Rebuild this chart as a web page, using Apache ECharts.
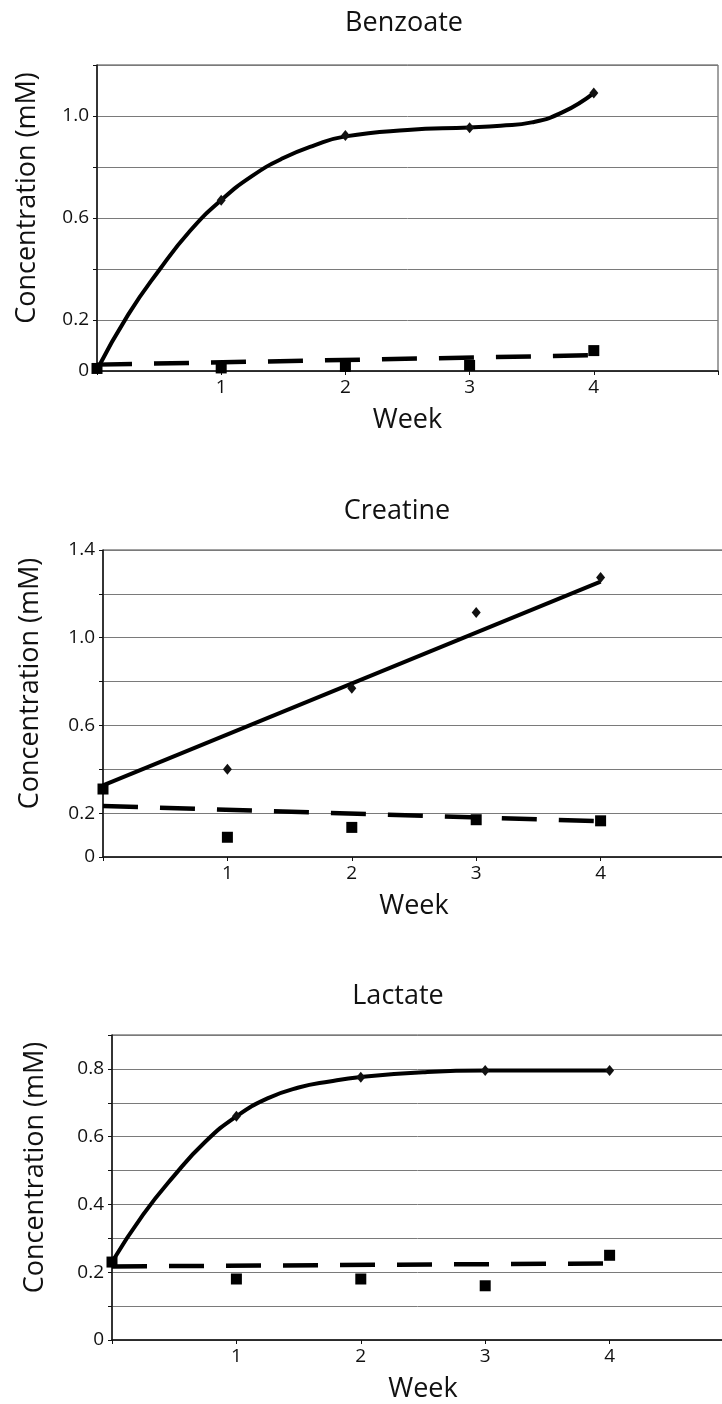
<!DOCTYPE html>
<html>
<head>
<meta charset="utf-8">
<script src="https://cdn.jsdelivr.net/npm/echarts@6/dist/echarts.min.js"></script>
<style>
html,body{margin:0;padding:0;background:#fff;}
#c{width:722px;height:1404px;}
</style>
</head>
<body>
<div id="c"></div>
<script>
// ---------- data ----------
const weeks = [0, 1, 2, 3, 4];
const xTickLabels = ['1', '2', '3', '4'];

// Benzoate
const benzoateDiamonds = [0.01, 0.67, 0.924, 0.954, 1.09];
const benzoateSquares  = [0.01, 0.012, 0.018, 0.022, 0.08];
const benzoateCurveX   = [0, 0.25, 0.5, 0.75, 1, 1.25, 1.5, 1.75, 2, 2.5, 3, 3.25, 3.5, 3.75, 4];
const benzoateCurveY   = [0.005, 0.22, 0.395, 0.55, 0.67, 0.765, 0.835, 0.885, 0.92, 0.945, 0.955, 0.962, 0.975, 1.015, 1.09];
const benzoateTrendX   = [0, 4];
const benzoateTrendY   = [0.025, 0.062];
const benzoateYLabels  = ['0', '0.2', '0.6', '1.0'];

// Creatine
const creatineDiamonds = [0.31, 0.40, 0.77, 1.115, 1.275];
const creatineSquares  = [0.31, 0.09, 0.135, 0.17, 0.165];
const creatineLineX    = [0, 4];
const creatineLineY    = [0.327, 1.256];
const creatineTrendX   = [0, 4];
const creatineTrendY   = [0.233, 0.163];
const creatineYLabels  = ['0', '0.2', '0.6', '1.0', '1.4'];

// Lactate
const lactateDiamonds = [0.23, 0.66, 0.775, 0.795, 0.795];
const lactateSquares  = [0.23, 0.18, 0.18, 0.16, 0.25];
const lactateCurveX   = [0, 0.25, 0.5, 0.75, 1, 1.25, 1.5, 1.75, 2, 2.5, 3, 3.5, 4];
const lactateCurveY   = [0.23, 0.37, 0.485, 0.585, 0.66, 0.713, 0.745, 0.763, 0.776, 0.79, 0.795, 0.795, 0.795];
const lactateTrendX   = [0, 4];
const lactateTrendY   = [0.217, 0.226];
const lactateYLabels  = ['0', '0.2', '0.4', '0.6', '0.8'];

// ---------- chart ----------
const fontFamily = '"Open Sans", "Noto Sans", sans-serif';
const zip = (xs, ys) => xs.map((x, i) => [x, ys[i]]);

const panels = [
  { title: 'Benzoate', titleX: 404, titleY: 23,
    grid: { left: 97, top: 65, width: 621, height: 306 },
    yMax: 1.2, yInterval: 0.2, yLabels: benzoateYLabels, yNameGap: 56, xNameGap: 36,
    solidX: benzoateCurveX, solidY: benzoateCurveY, smooth: 0.5,
    diamonds: benzoateDiamonds, squares: benzoateSquares, trendX: benzoateTrendX, trendY: benzoateTrendY },
  { title: 'Creatine', titleX: 397, titleY: 511,
    grid: { left: 103, top: 550, width: 622, height: 307 },
    yMax: 1.4, yInterval: 0.2, yLabels: creatineYLabels, yNameGap: 59, xNameGap: 36,
    solidX: creatineLineX, solidY: creatineLineY, smooth: false,
    diamonds: creatineDiamonds, squares: creatineSquares, trendX: creatineTrendX, trendY: creatineTrendY },
  { title: 'Lactate', titleX: 398, titleY: 996,
    grid: { left: 112, top: 1035, width: 622, height: 305 },
    yMax: 0.9, yInterval: 0.1, yLabels: lactateYLabels, yNameGap: 63, xNameGap: 36,
    solidX: lactateCurveX, solidY: lactateCurveY, smooth: 0.5,
    diamonds: lactateDiamonds, squares: lactateSquares, trendX: lactateTrendX, trendY: lactateTrendY }
];

const grids = [], xAxes = [], yAxes = [], series = [], graphics = [];

panels.forEach((p, i) => {
  grids.push(Object.assign({
    show: true, borderColor: '#444', borderWidth: 1, backgroundColor: 'transparent',
    containLabel: false, outerBoundsMode: 'none'
  }, p.grid));

  xAxes.push({
    gridIndex: i, type: 'value', min: 0, max: 5, interval: 1,
    axisLine: { show: true, onZero: false, lineStyle: { color: '#111', width: 1.5 } },
    axisTick: { show: true, length: 4, lineStyle: { color: '#111', width: 1 } },
    axisLabel: { margin: 7, fontSize: 19, fontFamily, color: '#111',
      formatter: v => xTickLabels.includes(String(v)) ? String(v) : '' },
    splitLine: { show: false },
    name: 'Week', nameLocation: 'middle', nameGap: p.xNameGap, nameMoveOverlap: false,
    nameTextStyle: { fontSize: 27, fontFamily, color: '#111' }
  });

  yAxes.push({
    gridIndex: i, type: 'value', min: 0, max: p.yMax, interval: p.yInterval,
    axisLine: { show: true, onZero: false, lineStyle: { color: '#111', width: 1.5 } },
    axisTick: { show: true, length: 4, lineStyle: { color: '#111', width: 1 } },
    axisLabel: { margin: 8, fontSize: 19, fontFamily, color: '#111',
      formatter: v => { const s = Math.abs(v) < 1e-9 ? '0' : v.toFixed(1); return p.yLabels.includes(s) ? s : ''; } },
    splitLine: { show: true, lineStyle: { color: '#7a7a7a', width: 1 } },
    name: 'Concentration (mM)', nameLocation: 'middle', nameGap: p.yNameGap, nameMoveOverlap: false,
    nameTextStyle: { fontSize: 27, fontFamily, color: '#111', padding: [0, 0, 0, 40] }
  });

  series.push({
    type: 'line', xAxisIndex: i, yAxisIndex: i, data: zip(p.solidX, p.solidY),
    smooth: p.smooth, symbol: 'none', silent: true, z: 3,
    lineStyle: { color: '#000', width: 4 }
  });
  series.push({
    type: 'scatter', xAxisIndex: i, yAxisIndex: i, data: zip(weeks, p.diamonds),
    symbol: 'diamond', symbolSize: [9, 11], z: 4,
    itemStyle: { color: '#111', opacity: 1 }
  });
  series.push({
    type: 'line', xAxisIndex: i, yAxisIndex: i, data: zip(p.trendX, p.trendY),
    symbol: 'none', silent: true, z: 3,
    lineStyle: { color: '#000', width: 4.5, type: [35, 22], cap: 'butt' }
  });
  series.push({
    type: 'scatter', xAxisIndex: i, yAxisIndex: i, data: zip(weeks, p.squares),
    symbol: 'rect', symbolSize: 11, z: 4,
    itemStyle: { color: '#000', opacity: 1 }
  });

  graphics.push({
    type: 'text', x: p.titleX, y: p.titleY, z: 10,
    style: { text: p.title, fontSize: 27, fontFamily, fill: '#111',
      textAlign: 'center', textVerticalAlign: 'middle', align: 'center', verticalAlign: 'middle' }
  });
});

const chart = echarts.init(document.getElementById('c'), null, { renderer: 'canvas' });
chart.setOption({
  backgroundColor: '#fff',
  animation: false,
  grid: grids,
  xAxis: xAxes,
  yAxis: yAxes,
  series: series,
  graphic: graphics
});
</script>
</body>
</html>
